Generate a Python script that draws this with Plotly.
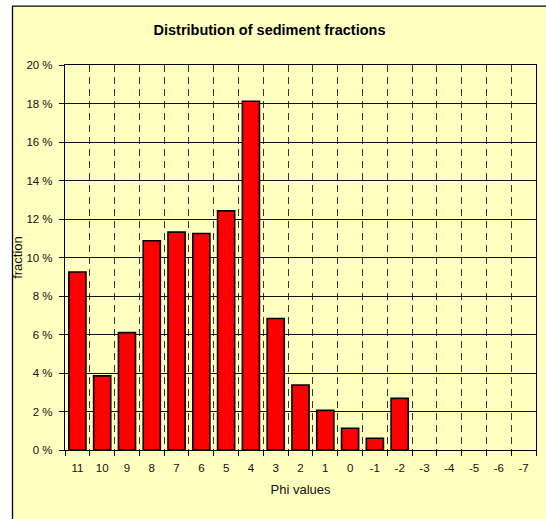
import plotly.graph_objects as go

# Phi classes (coarse to fine reversed, as on the axis) and fraction in percent
phi_labels = ["11", "10", "9", "8", "7", "6", "5", "4", "3", "2", "1", "0",
              "-1", "-2", "-3", "-4", "-5", "-6", "-7"]
fractions = [9.25, 3.85, 6.1, 10.87, 11.32, 11.25, 12.42, 18.12, 6.83,
             3.38, 2.06, 1.13, 0.61, 2.68, None, None, None, None, None]

y_ticks = [0, 2, 4, 6, 8, 10, 12, 14, 16, 18, 20]

W, H = 546, 519
ML, MR, MT, MB = 65, 10, 64.5, 68.5
PW, PH = W - ML - MR, H - MT - MB

BG = "#FFFFC0"
FONT = "Liberation Sans, Arial, sans-serif"


def px_x(p):
    return (p - ML) / PW


def px_y(p):
    return (H - MB - p) / PH


fig = go.Figure()
fig.add_trace(go.Bar(
    x=phi_labels,
    y=fractions,
    marker=dict(color="#FF0000", line=dict(color="#000000", width=1.6)),
    hoverinfo="x+y",
))

# Chart-area frame behind the plot
fig.add_shape(
    type="rect", xref="paper", yref="paper", layer="below",
    x0=px_x(12.5), x1=px_x(W + 5), y0=px_y(H + 5), y1=px_y(5.5),
    fillcolor=BG, line=dict(color="#000000", width=1.3),
)

fig.update_layout(
    width=W, height=H,
    margin=dict(l=ML, r=MR, t=MT, b=MB, pad=0),
    paper_bgcolor="#FFFFFF",
    plot_bgcolor=BG,
    bargap=0.31,
    showlegend=False,
    font=dict(family=FONT, size=11, color="#111111"),
    title=dict(
        text="<b>Distribution of sediment fractions</b>",
        x=269.5 / W, xref="container", xanchor="center",
        y=1 - 30 / H, yref="container", yanchor="middle",
        font=dict(family=FONT, size=14.5, color="#000000"),
    ),
)

fig.update_xaxes(
    type="category",
    categoryorder="array", categoryarray=phi_labels,
    range=[-0.5, len(phi_labels) - 0.5],
    tickson="boundaries",
    ticks="outside", ticklen=5, tickwidth=1, tickcolor="#000000",
    ticklabelstandoff=7,
    showgrid=True, gridcolor="#333333", gridwidth=1, griddash="7px,5px",
    showline=True, linecolor="#000000", linewidth=1.2, mirror=True,
    tickfont=dict(family=FONT, size=11.5, color="#111111"),
    title=dict(text="Phi values", standoff=11,
               font=dict(family=FONT, size=13, color="#111111")),
    fixedrange=True,
)

fig.update_yaxes(
    range=[0, 20],
    tickvals=y_ticks,
    ticktext=[f"{v} %" for v in y_ticks],
    ticks="outside", ticklen=5, tickwidth=1, tickcolor="#000000",
    ticklabelstandoff=4,
    showgrid=True, gridcolor="#111111", gridwidth=1,
    zeroline=False,
    showline=True, linecolor="#000000", linewidth=1.2, mirror=True,
    tickfont=dict(family=FONT, size=11.5, color="#111111"),
    title=dict(text="fraction", standoff=0,
               font=dict(family=FONT, size=13, color="#111111")),
    fixedrange=True,
)

fig.write_html("out.html")
